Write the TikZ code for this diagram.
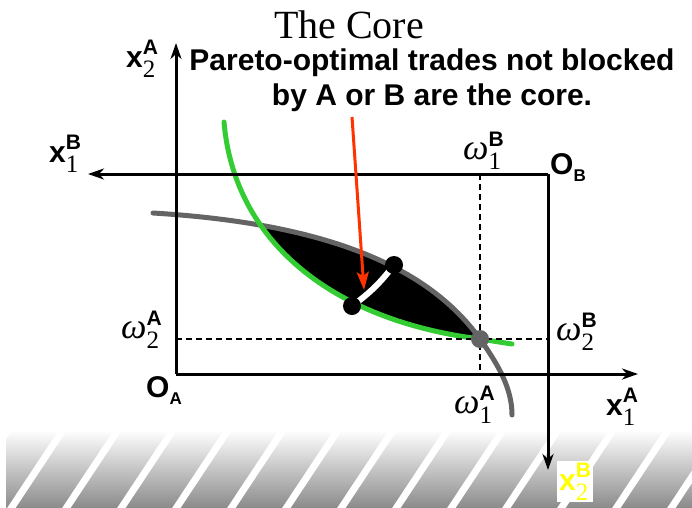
\documentclass[tikz,border=0pt]{standalone}
\usepackage{fontspec}
\setmainfont{Liberation Sans}
\newfontfamily\serif{Liberation Serif}
\usetikzlibrary{arrows.meta,positioning,calc}
\definecolor{curvegreen}{RGB}{51,204,51}
\definecolor{curvegray}{RGB}{100,100,100}
\definecolor{pointer}{RGB}{255,51,0}
\definecolor{labyellow}{RGB}{255,255,0}

% label with subscript (serif digit) and superscript (bold sans)
\newcommand{\idx}[3]{#1\raisebox{-10pt}{\rlap{\serif\mdseries\fontsize{25}{25}\selectfont #2}}\raisebox{13pt}{\fontsize{21}{21}\selectfont #3}}
\newcommand{\om}{{\serif\itshape\mdseries\fontsize{36}{36}\selectfont ω}}

\tikzset{
  axis/.style={line width=3pt, -{Stealth[length=16pt,width=11pt,inset=5pt]}},
  guide/.style={dashed, line width=1.5pt, dash pattern=on 6pt off 4pt},
  lab/.style={font=\bfseries\fontsize{30}{30}\selectfont, inner sep=0pt, anchor=base west},
  dot/.style={circle, fill=black, inner sep=0pt, minimum size=18pt}
}

\begin{document}
\begin{tikzpicture}[x=1pt,y=-1pt]
\useasboundingbox (0,0) rectangle (692,507);

% hatched floor
\begin{scope}
  \clip (6,430) rectangle (692,507);
  \shade[top color=white, bottom color=black!45] (6,430) rectangle (692,507);
  \foreach \k in {-1,...,12}
    \draw[white, line width=7pt] (10+55*\k,510) -- (65+55*\k,427);
\end{scope}

% origins and ends
\coordinate (OA) at (176,374);
\coordinate (OB) at (548,174);
\coordinate (E) at (480,339);
\coordinate (xAend) at (638,374);
\coordinate (yAend) at (176,43);
\coordinate (xBend) at (88,174);
\coordinate (yBend) at (548,470);

% lens of mutually better bundles
\begin{scope}
  \clip (224,122) .. controls (234,240) and (330,320) .. (E) -- (512,344) -- (692,344) -- (692,0) -- (224,0) -- cycle;
  \fill[black] (153,213) .. controls (300,222) and (420,255) .. (E)
    .. controls (500,367) and (512,390) .. (512,415) -- (512,507) -- (153,507) -- cycle;
\end{scope}

% indifference curves
\draw[curvegray, line width=5pt, line cap=round] (153,213) .. controls (300,222) and (420,255) .. (E)
  .. controls (500,367) and (512,390) .. (512,415);
\draw[curvegreen, line width=5pt, line cap=round] (224,122) .. controls (234,240) and (330,320) .. (E) -- (512,344);

% endowment guides
\draw[guide] (E |- OB) -- (E |- OA);
\draw[guide] (E -| OA) -- (E -| OB);

% axes
\draw[axis] (OA) -- (xAend);
\draw[axis] (OA) -- (yAend);
\draw[axis] (OB) -- (xBend);
\draw[axis] (OB) -- (yBend);

% core segment
\coordinate (c1) at (352,306);
\coordinate (c2) at (394,265);
\draw[white, line width=6pt] (c1) to[bend right=8] (c2);
\node[dot] (core1) at (c1) {};
\node[dot] (core2) at (c2) {};
\node[circle, fill=curvegray, inner sep=0pt, minimum size=18pt] (endow) at (E) {};

% text
\node[font=\serif\fontsize{40}{40}\selectfont, anchor=base, inner sep=0pt] (title) at (349,38) {The Core};
\node[font=\bfseries\fontsize{30}{35}\selectfont, align=center, anchor=north, inner sep=0pt] (note) at (432,49)
  {Pareto-optimal trades not blocked\\by A or B are the core.};
\coordinate (tail) at (352,117);
\coordinate (tip) at (364,290);
\draw[pointer, line width=3pt, -{Stealth[length=18pt,width=12pt,inset=4pt]}] (tail) -- (tip);

% axis labels
\node[lab] (x2A) at (126,67) {\idx{x}{2}{A}};
\node[lab] (x1B) at (49,162) {\idx{x}{1}{B}};
\node[lab] (x1A) at (606,415) {\idx{x}{1}{A}};
\node[lab] (oA) at (146,397) {O\raisebox{-7pt}{\fontsize{17}{17}\selectfont A}};
\node[lab] (oB) at (550,174) {O\raisebox{-7pt}{\fontsize{17}{17}\selectfont B}};
\node[lab] (w1B) at (463,159) {\idx{\om}{1}{B}};
\node[lab] (w2A) at (121,338) {\idx{\om}{2}{A}};
\node[lab] (w2B) at (556,340) {\idx{\om}{2}{B}};
\node[lab] (w1A) at (454,413) {\idx{\om}{1}{A}};
\node[lab, fill=white, inner sep=2pt, text=labyellow] (x2B) at (557,490) {\idx{x}{2}{B}};
\end{tikzpicture}
\end{document}
